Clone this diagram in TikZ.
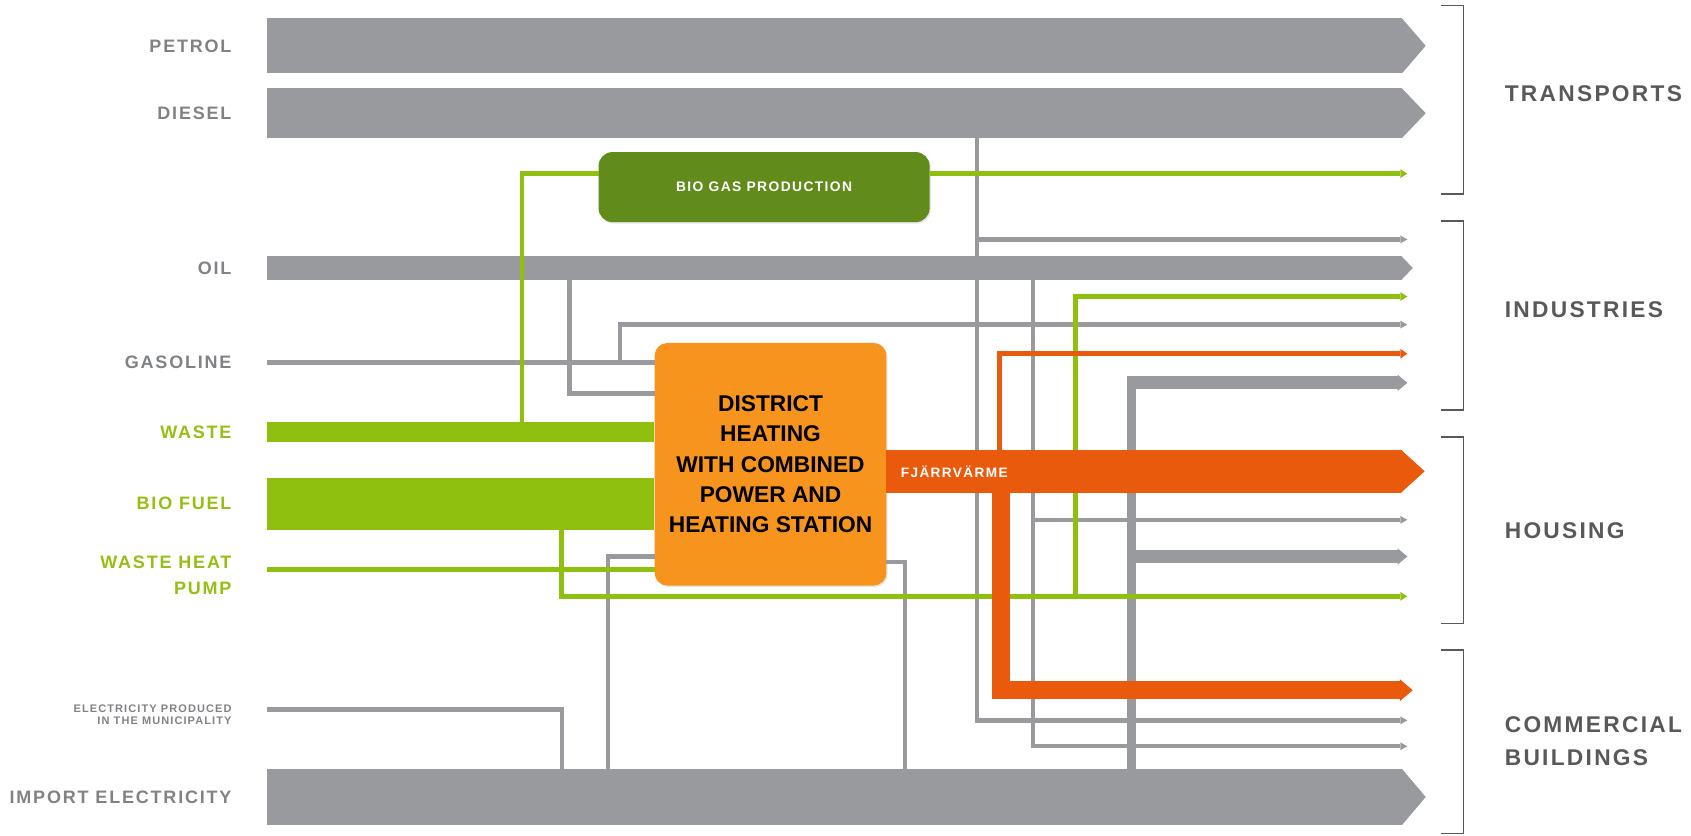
\documentclass[tikz,border=0pt]{standalone}
\usepackage{fontspec}
\setmainfont{Liberation Sans}
\usetikzlibrary{positioning,arrows.meta,shadows}

\definecolor{flowgray}{RGB}{152,154,157}
\definecolor{srcgray}{RGB}{128,130,133}
\definecolor{sinkgray}{RGB}{88,89,91}
\definecolor{lime}{RGB}{143,192,16}
\definecolor{limetext}{RGB}{150,190,20}
\definecolor{biogreen}{RGB}{97,140,28}
\definecolor{plantorange}{RGB}{247,148,29}
\definecolor{heatorange}{RGB}{234,90,12}

\tikzset{
  src/.style     ={anchor=east, inner sep=0pt, text=srcgray,
                   font=\bfseries\fontsize{9.5}{13.7}\selectfont\addfontfeature{LetterSpace=10}},
  sink/.style    ={anchor=west, inner sep=0pt, text=sinkgray,
                   font=\bfseries\fontsize{12}{17.6}\selectfont\addfontfeature{LetterSpace=10}},
  plantbox/.style={fill=plantorange, rounded corners=2.4mm, minimum width=43mm, minimum height=45mm,
                   align=center, inner sep=0pt,
                   drop shadow={opacity=0.2, shadow xshift=0.6pt, shadow yshift=-0.8pt},
                   font=\bfseries\fontsize{12}{15.9}\selectfont},
  biobox/.style  ={fill=biogreen, rounded corners=2.6mm, minimum width=61.4mm, minimum height=13mm,
                   text=white, inner sep=0pt,
                   drop shadow={opacity=0.2, shadow xshift=0.6pt, shadow yshift=-0.8pt},
                   font=\bfseries\fontsize{7.3}{9}\selectfont\addfontfeature{LetterSpace=10}},
  bar/.style     ={line width=#1, -{Triangle[length=4.4mm, width=0pt 1, line width=0pt]}},
  pipe/.style    ={line width=#1},
  tipthin/.style ={-{Triangle[length=1.3mm, width=0pt 1.8, line width=0pt]}},
  tipmid/.style  ={-{Triangle[length=1.8mm, width=0pt 1.25, line width=0pt]}},
  bracket/.style ={sinkgray, line width=0.3mm},
}

\begin{document}
\begin{tikzpicture}[x=0.2mm, y=-0.2mm]
  \useasboundingbox (0,0) rectangle (1568,775);

  % ---------- plants ----------
  \node[plantbox] (chp)    at (714.5,430.5) {DISTRICT\\HEATING\\WITH COMBINED\\POWER AND\\HEATING STATION};
  \node[biobox]   (biogas) at (708.5,173.5) {BIO GAS PRODUCTION};

  % ---------- sources ----------
  \node[src] (petrol)   at (215,42.5)  {PETROL};
  \node[src] (diesel)   at (215,105)   {DIESEL};
  \node[src] (oil)      at (215,248.5) {OIL};
  \node[src] (gasoline) at (215,336)   {GASOLINE};
  \node[src, text=limetext] (waste)   at (215,400.5) {WASTE};
  \node[src, text=limetext] (biofuel) at (215,467)   {BIO FUEL};
  \node[src, text=limetext, align=right, anchor=north east] (heatpump) at (215,515.5) {WASTE HEAT\\PUMP};
  \node[src, align=right, anchor=north east,
        font=\bfseries\fontsize{5.8}{6.3}\selectfont\addfontfeature{LetterSpace=10}]
        (localpower) at (215,653.5) {ELECTRICITY PRODUCED\\IN THE MUNICIPALITY};
  \node[src] (import)   at (215,739)   {IMPORT ELECTRICITY};

  \coordinate (in)  at (248,0);
  \coordinate (out) at (1322,0);

  % ---------- grey branches ----------
  \draw[pipe=0.8mm, flowgray, tipthin] (906,128) |- (1305,668);
  \draw[pipe=0.8mm, flowgray, tipthin] (906,222) -- (1305,222);
  \draw[pipe=0.8mm, flowgray, tipthin] (958,258) |- (1305,692);
  \draw[pipe=0.8mm, flowgray, tipthin] (958,482) -- (1305,482);
  \draw[pipe=0.8mm, flowgray] (528,258) |- (607,365);
  \draw[pipe=0.9mm, flowgray] (gasoline.east -| in) -- (607,336);
  \draw[pipe=0.8mm, flowgray, tipthin] (575,336) |- (1305,301);
  \draw[pipe=0.8mm, flowgray] (248,658) -| (521,714);
  \draw[pipe=0.8mm, flowgray] (564,714) |- (607,516);
  \draw[pipe=0.8mm, flowgray] (822,521) -| (839,714);
  \draw[pipe=1.6mm, flowgray] (1049,714) -- (1049,349);
  \draw[pipe=2.4mm, flowgray, tipmid] (1045,355) -- (1305,355);
  \draw[pipe=2.4mm, flowgray, tipmid] (1049,516) -- (1305,516);

  % ---------- fossil bars ----------
  \draw[bar=10.2mm, flowgray] (petrol.east -| in) -- (petrol.east -| out);
  \draw[bar=9.2mm, flowgray] (diesel.east -| in) -- (diesel.east -| out);
  \draw[pipe=4.6mm, flowgray, -{Triangle[length=2.2mm, width=0pt 1, line width=0pt]}]
    (oil.east -| in) -- (1310,248.5);
  \draw[bar=10.4mm, flowgray] (import.east -| in) -- (import.east -| out);

  % ---------- renewables ----------
  \draw[pipe=3.8mm, lime] (waste.east -| in) -- (waste.east -| chp.west);
  \draw[pipe=9.6mm, lime] (biofuel.east -| in) -- (biofuel.east -| chp.west);
  \draw[pipe=0.9mm, lime] (248,528) -- (607,528);
  \draw[pipe=0.9mm, lime] (484,392) |- (555,161);
  \draw[pipe=0.9mm, lime, tipthin] (862,161) -- (1305,161);
  \draw[pipe=0.9mm, lime, tipthin] (521,490) |- (1305,553);
  \draw[pipe=0.9mm, lime, tipthin] (997,553) |- (1305,275);

  % ---------- district heating ----------
  \draw[pipe=1mm, heatorange, tipthin] (927,420) |- (1305,328);
  \draw[pipe=3.4mm, heatorange, -{Triangle[length=2.4mm, width=0pt 1.2, line width=0pt]}]
    (928,450) |- (1310,640);
  \draw[bar=8mm, heatorange] (822,437) -- (1321,437);
  \node[anchor=west, inner sep=0pt, text=white,
        font=\bfseries\fontsize{7.2}{9}\selectfont\addfontfeature{LetterSpace=10}]
        (fjv) at (835,437) {FJÄRRVÄRME};

  % ---------- sinks ----------
  \foreach \top/\bot in {5/180, 205/380, 405/578, 603/773}
    \draw[bracket] (1336,\top) -- (1357,\top) -- (1357,\bot) -- (1336,\bot);
  \node[sink] (transports) at (1395,87)  {TRANSPORTS};
  \node[sink] (industries) at (1395,287) {INDUSTRIES};
  \node[sink] (housing)    at (1395,492) {HOUSING};
  \node[sink, align=left] (commercial) at (1395,687.5) {COMMERCIAL\\BUILDINGS};
\end{tikzpicture}
\end{document}
